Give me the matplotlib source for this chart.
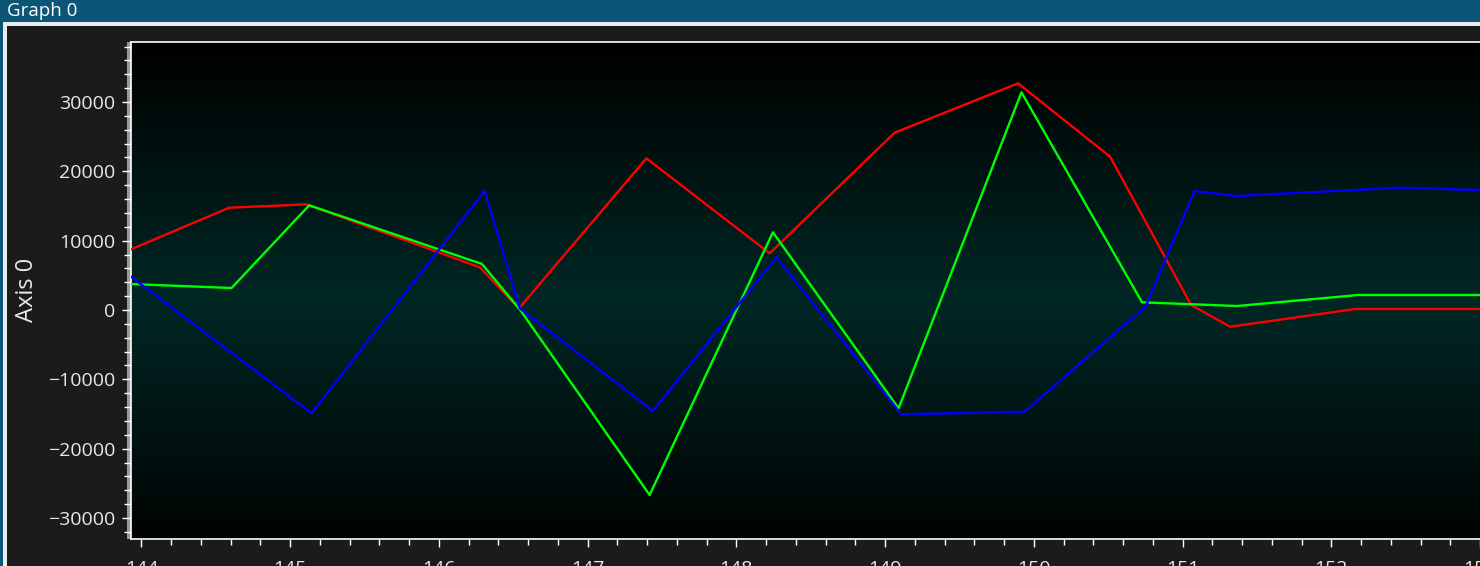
import numpy as np
import matplotlib
matplotlib.use("Agg")
import matplotlib.pyplot as plt
from matplotlib.patches import Rectangle
from matplotlib.ticker import MultipleLocator

# data
red_x = [143.93, 144.59, 145.11, 146.275, 146.539, 147.395, 148.224, 149.064, 149.894, 150.513, 151.058, 151.319, 152.16, 153.0]
red_y = [8755, 14755, 15246, 6159, 245, 21880, 8178, 25573, 32699, 22111, 721, -2409, 144, 144]

green_x = [143.93, 144.606, 145.128, 146.29, 146.547, 147.417, 148.246, 149.091, 149.917, 150.728, 151.365, 152.182, 153.0]
green_y = [3750, 3173, 15101, 6635, 0, -26683, 11207, -14178, 31400, 1111, 577, 2164, 2164]

blue_x = [143.93, 145.144, 146.308, 146.544, 147.439, 148.269, 149.109, 149.938, 150.751, 151.08, 151.36, 152.455, 153.0]
blue_y = [4803, -14900, 17164, 245, -14568, 7601, -15044, -14669, 476, 17164, 16443, 17640, 17308]

x_lim = (143.93, 153.0)
y_lim = (-33030, 38660)
title = "Graph 0"
y_label = "Axis 0"

W, H = 1480, 566
fig = plt.figure(figsize=(W / 100, H / 100), dpi=100, facecolor="#1b1b1b")

def px_rect(x0, y0, w, h, color):
    # rectangle given in pixel coords from top-left
    fig.add_artist(Rectangle((x0 / W, 1 - (y0 + h) / H), w / W, h / H,
                             transform=fig.transFigure, color=color, lw=0, zorder=0))

# window chrome
px_rect(0, 0, W, 22, "#0b5676")
px_rect(0, 22, W, 4, "#e8ecef")
px_rect(0, 22, 3, H, "#0b5676")
px_rect(3, 22, 4, H, "#e8ecef")
px_rect(126.5, 42, 4.5, 497, "#9a9a9a")
fig.text(7 / W, 1 - 11 / H, title, color="white", fontsize=13.5,
         family="Open Sans", va="center", ha="left")

ax = fig.add_axes([131 / W, 1 - 539 / H, 1 - 131 / W, (539 - 42) / H])

# vertical gradient background: black at edges, dark teal in the middle
t = np.linspace(0, 1, 400)
k = np.clip(1 - np.abs(t - 0.52) / 0.52, 0, 1)
mid = np.array([0.0, 0.155, 0.145])
grad = (k[:, None] * mid[None, :])[:, None, :]
ax.imshow(grad, extent=[x_lim[0], x_lim[1], y_lim[0], y_lim[1]],
          aspect="auto", origin="upper", zorder=0, interpolation="bilinear")

ax.plot(red_x, red_y, color="#ff0000", lw=1.7, zorder=3)
ax.plot(green_x, green_y, color="#00ff00", lw=1.7, zorder=3)
ax.plot(blue_x, blue_y, color="#0000ff", lw=1.7, zorder=4)

ax.set_xlim(*x_lim)
ax.set_ylim(*y_lim)

ax.xaxis.set_major_locator(MultipleLocator(1))
ax.xaxis.set_minor_locator(MultipleLocator(0.2))
ax.yaxis.set_major_locator(MultipleLocator(10000))
ax.yaxis.set_minor_locator(MultipleLocator(2000))

for s in ["top", "left", "bottom"]:
    ax.spines[s].set_color("white")
    ax.spines[s].set_linewidth(1.2)
ax.spines["right"].set_visible(False)

ax.tick_params(axis="both", which="both", colors="white", width=1)
ax.tick_params(axis="y", which="major", length=6.5, pad=5)
ax.tick_params(axis="y", which="minor", length=5)
ax.tick_params(axis="x", which="major", length=6, pad=9)
ax.tick_params(axis="x", which="minor", length=4.5)
for lab in ax.get_xticklabels() + ax.get_yticklabels():
    lab.set_family("Open Sans")
    lab.set_fontsize(14)
    lab.set_color("#e8e8e8")

fig.text(27 / W, 1 - 290 / H, y_label, rotation=90, color="#e8e8e8",
         fontsize=17, family="Open Sans", va="center", ha="center")

fig.savefig("out.png", dpi=100, facecolor=fig.get_facecolor())
